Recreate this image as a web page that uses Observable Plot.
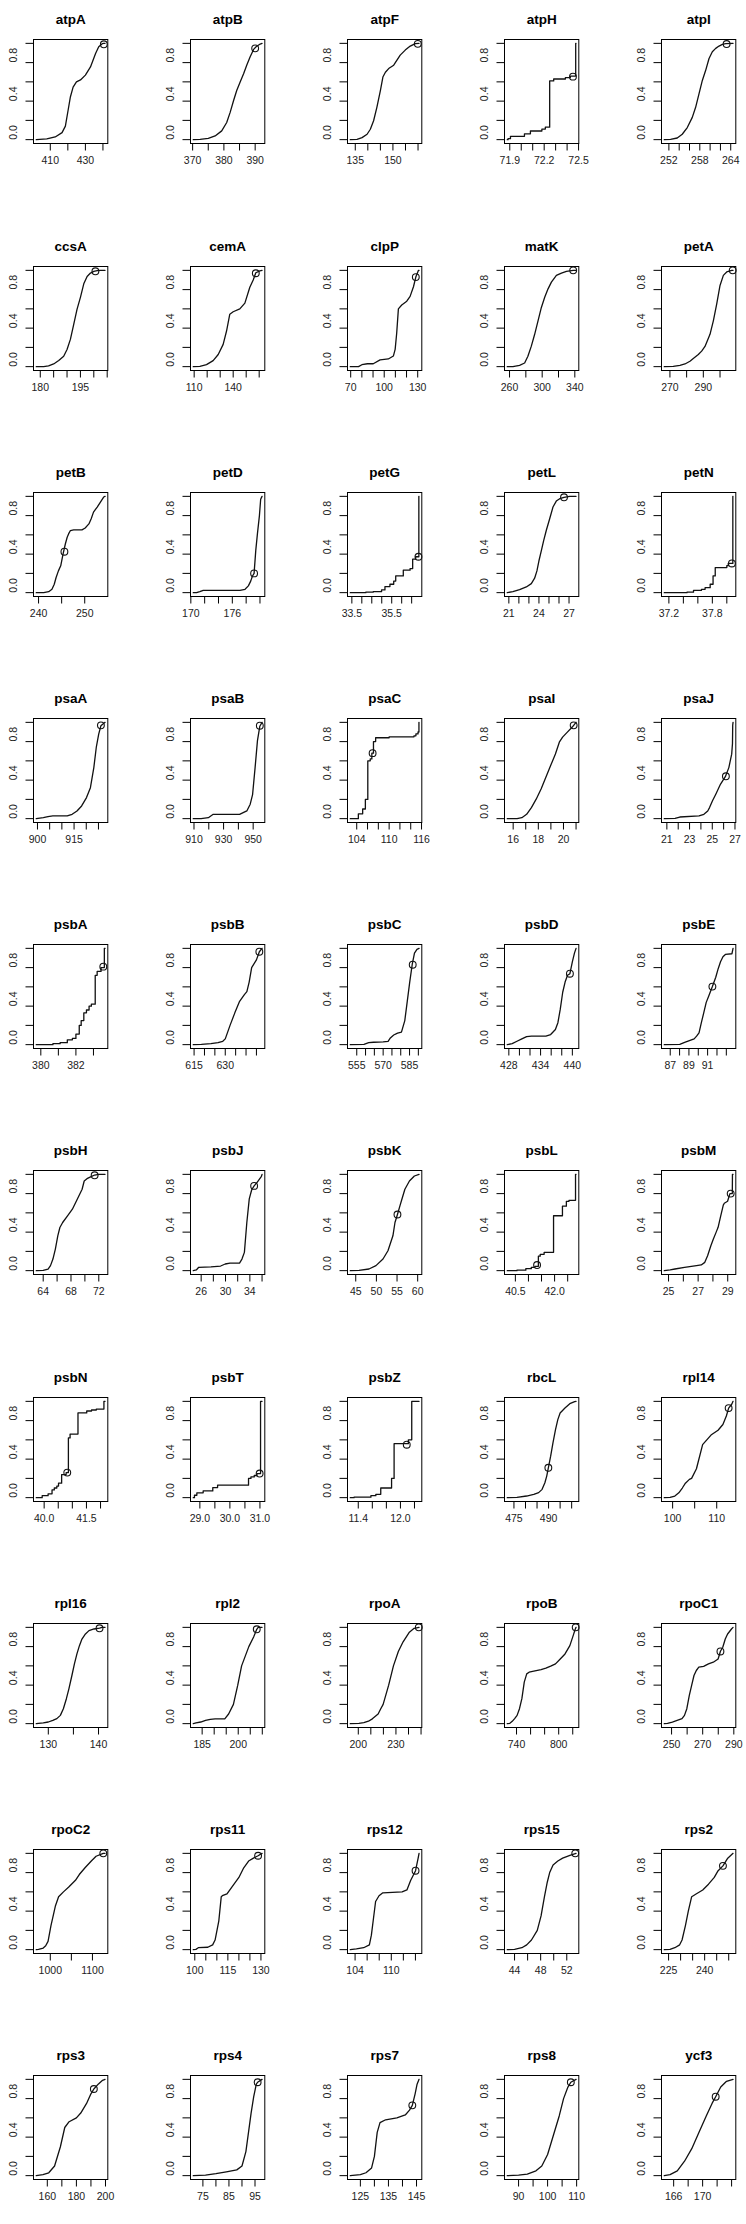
<!DOCTYPE html>
<html><head><meta charset="utf-8">
<script src="https://cdn.jsdelivr.net/npm/d3@7"></script>
<script src="https://cdn.jsdelivr.net/npm/@observablehq/plot@0.6"></script>
<style>
html,body{margin:0;padding:0;background:#fff;overflow:hidden;}
#chart{position:relative;width:746px;height:2224px;overflow:hidden;background:#fff;}
#chart svg{position:absolute;}
</style></head><body><div id="chart"></div>
<script>
const genes = ["atpA","atpB","atpF","atpH","atpI","ccsA","cemA","clpP","matK","petA",
"petB","petD","petG","petL","petN","psaA","psaB","psaC","psaI","psaJ",
"psbA","psbB","psbC","psbD","psbE","psbH","psbJ","psbK","psbL","psbM",
"psbN","psbT","psbZ","rbcL","rpl14","rpl16","rpl2","rpoA","rpoB","rpoC1",
"rpoC2","rps11","rps12","rps15","rps2","rps3","rps4","rps7","rps8","ycf3"];

const stepGenes = ["atpH","petG","petN","psaC","psbA","psbL","psbN","psbT","psbZ"];

const xRanges = [[402,441.2],[370.2,392.2],[133,160.4],[71.878,72.478],[251.1,264.45],
[178.5,204.2],[109.3,162.2],[69.6,131.2],[257.2,341.5],[266.6,307.8],
[239.5,254.4],[170.35,180.3],[33.42,36.87],[20.84,27.7],[37.136,38.086],
[899.5,927.7],[909.5,956],[102.8,115.54],[15.53,21.0],[20.77,26.83],
[379.74,383.66],[614.6,647.7],[551.3,590.4],[427.7,440.7],[86.36,93.72],
[63,72.9],[24.7,36.0],[43.67,60.33],[40.19,42.82],[24.71,29.36],
[39.72,42.16],[28.78,31.07],[11.286,12.265],[472.1,501.9],[98.1,113.7],
[127.6,141.3],[181.3,209.9],[193.6,248.4],[726.8,824.7],[245.3,289.5],
[966.7,1129.9],[99.3,130.5],[103.2,114.6],[42.88,53.42],[223.2,251.8],
[152.4,199.7],[71.3,97.7],[121.4,145.9],[86.1,109.8],[164.7,174.2]];

const xTicks = [[410,420,430,440],[370,375,380,385,390],[135,140,145,150,155,160],[71.9,72.0,72.1,72.2,72.3,72.4,72.5],[252,254,256,258,260,262,264],
[180,185,190,195,200,205],[110,120,130,140,150,160],[70,80,90,100,110,120,130],[260,280,300,320,340],[270,280,290,300],
[240,245,250],[170,172,174,176,178,180],[33.5,34,34.5,35,35.5,36,36.5],[21,22,23,24,25,26,27],[37.2,37.4,37.6,37.8,38.0],
[900,905,910,915,920,925],[910,920,930,940,950],[104,106,108,110,112,114,116],[16,17,18,19,20,21],[21,22,23,24,25,26,27],
[380,381,382,383],[615,620,625,630,635,640,645],[555,560,565,570,575,580,585,590],[428,430,432,434,436,438,440],[87,88,89,90,91,92,93],
[64,66,68,70,72],[26,28,30,32,34,36],[45,50,55,60],[40.5,41,41.5,42,42.5],[25,26,27,28,29],
[40,40.5,41,41.5,42],[29,29.5,30,30.5,31],[11.4,11.6,11.8,12.0,12.2],[475,480,485,490,495,500],[100,105,110],
[130,135,140],[185,190,195,200,205,210],[200,210,220,230,240,250],[740,760,780,800,820],[250,260,270,280,290],
[1000,1050,1100],[100,105,110,115,120,125,130],[104,106,108,110,112,114],[44,46,48,50,52],[225,230,235,240,245,250],
[160,170,180,190,200],[75,80,85,90,95],[125,130,135,140,145],[90,95,100,105,110],[166,168,170,172,174]];

const xLabels = [["410","430"],["370","380","390"],["135","150"],["71.9","72.2","72.5"],["252","258","264"],
["180","195"],["110","140"],["70","100","130"],["260","300","340"],["270","290"],
["240","250"],["170","176"],["33.5","35.5"],["21","24","27"],["37.2","37.8"],
["900","915"],["910","930","950"],["104","110","116"],["16","18","20"],["21","23","25","27"],
["380","382"],["615","630"],["555","570","585"],["428","434","440"],["87","89","91"],
["64","68","72"],["26","30","34"],["45","50","55","60"],["40.5","42.0"],["25","27","29"],
["40.0","41.5"],["29.0","30.0","31.0"],["11.4","12.0"],["475","490"],["100","110"],
["130","140"],["185","200"],["200","230"],["740","800"],["250","270","290"],
["1000","1100"],["100","115","130"],["104","110"],["44","48","52"],["225","240"],
["160","180","200"],["75","85","95"],["125","135","145"],["90","100","110"],["166","170"]];

const curveX = [
[402,408,412.8,416.7,418.6,420.1,421.4,423,424.9,427.2,430,432.9,435.8,437.6,439.6,440.5,441.2],
[370.2,372.4,375.0,377.2,379.3,380.9,382.0,383.1,384.1,385.2,386.3,387.3,388.4,389.5,390.3,391.6,392.2],
[133,135.7,137.7,139.7,141,142.3,143.6,145,146,147,148.3,150.3,151.6,152.9,154.9,156.9,158.9,160.4],
[71.878,71.885,71.906,72.028,72.08,72.18,72.21,72.248,72.283,72.385,72.428,72.475,72.478],
[251.1,252.32,253.62,254.59,255.57,256.54,257.19,257.84,258.49,259.14,259.79,260.43,261.08,261.73,262.38,263.03,264.45],
[178.5,181.25,183.1,185,186.9,188.75,190,191.25,192.5,193.75,195,196.25,197.5,198.75,200,201.25,202.5,204.2],
[109.3,114.4,119.5,124.6,128.5,132.3,134.9,137.4,140,145.1,149,152.8,155.4,157.4,160.5,162.2],
[69.6,77,80,85,90.2,96.3,103.7,108.2,109.8,111.2,112.7,115.7,120.2,123.2,126.2,128.3,130.7,131.2],
[257.2,264.1,272.3,278.5,282.5,286.7,290.8,294.9,299,303.1,307.2,311.3,317.4,323.6,329.7,338,341.5],
[266.6,272,276,279,282,284,287,289,291,294,296,298,300,302,304,307,307.8],
[239.5,241.1,242.2,242.9,243.4,243.8,244.3,244.8,245.3,245.8,246.2,246.5,246.9,247.6,249.4,250.1,250.9,251.4,251.9,252.7,253.4,254.1,254.4],
[170.35,170.82,171.3,171.79,177.11,177.84,178.32,178.66,178.9,179.15,179.39,179.63,179.92,180.1,180.3],
[33.42,34.2,34.57,34.99,35.16,35.41,35.6,35.7,36.08,36.42,36.55,36.7,36.86,36.87],
[20.84,21.4,22.07,22.74,23.24,23.57,23.8,24,24.24,24.47,24.73,25.07,25.4,25.73,26.07,26.5,27.06,27.7],
[37.136,37.45,37.54,37.65,37.7,37.77,37.81,37.84,38.0,38.02,38.083,38.086],
[899.5,902.4,904.3,906.3,912.2,914.2,916.2,918.1,920.1,921.7,923.1,924.1,925.1,926,927.7],
[909.5,914.8,919.7,923,940.8,945.7,948,949.6,951.3,952.9,954.5,956],
[102.8,104.3,105.1,105.6,106.05,106.5,106.8,107.1,107.5,110,114.6,114.96,115.35,115.52,115.54],
[15.53,16.31,16.69,17.07,17.45,17.83,18.22,18.6,18.98,19.36,19.67,19.93,20.31,20.7,20.81,21.0],
[20.77,21.72,22.14,23.83,24.26,24.6,24.76,25.02,25.31,25.73,26.15,26.46,26.71,26.78,26.8,26.83],
[379.74,380.69,381.1,381.51,381.8,382.0,382.19,382.3,382.45,382.6,382.75,382.88,383.1,383.21,383.43,383.62,383.66],
[614.6,618.5,623.1,626.5,628.8,630,632.3,634.6,636.9,639.2,640.4,641.5,642.7,645,646.4,647.7],
[551.3,559.1,561.8,564.6,570,572.8,574.1,576,578.2,580.4,582.3,583.7,585.1,586.5,587.8,589.2,590.4],
[427.7,428.63,429.54,430.45,431.36,432.27,435,435.9,436.8,437.27,437.72,438.18,438.63,439.09,439.54,440,440.4,440.7],
[86.36,88.02,88.54,89.05,89.56,89.82,90.08,90.33,90.59,90.85,91.1,91.51,91.87,92.13,92.38,92.64,92.9,93.6,93.72],
[63,64,64.7,65.05,65.4,65.75,66.1,66.4,66.8,67.5,68.2,68.9,69.6,69.9,70.3,70.9,71.4,72,72.9],
[24.7,25.2,25.6,27.6,29.2,29.95,30.74,32.3,32.7,33.1,33.5,33.9,34.3,34.7,35.1,35.9,36.0],
[43.67,45.8,48.2,49.9,51.6,52.8,54,54.5,55.1,55.7,56.3,56.9,58,59.2,60.33],
[40.19,40.56,40.9,41.11,41.25,41.38,41.45,41.6,41.96,42.3,42.45,42.55,42.8,42.82],
[24.71,25.11,25.43,26.08,26.89,27.21,27.45,27.64,27.86,28.03,28.22,28.35,28.5,28.7,28.77,28.99,29.15,29.31,29.32,29.36],
[39.72,39.93,40.14,40.28,40.36,40.45,40.51,40.62,40.78,40.86,40.92,41.2,41.51,41.68,41.85,42.12,42.16],
[28.78,28.82,28.9,29.11,29.43,29.59,30.62,30.7,30.81,30.9,31.02,31.07],
[11.286,11.34,11.58,11.65,11.72,11.874,11.91,12.113,12.161,12.265],
[472.1,476.3,480.5,483.6,485.7,487.2,488.4,489.2,489.9,490.9,491.9,493,494,495,497.1,499.2,501.3,501.9],
[98.1,99.43,100.5,101.4,102.2,102.9,103.8,104.3,105.4,106.8,108.7,110.3,111.4,112.2,112.7,113.4,113.7],
[127.6,129,130,130.9,131.7,132.4,133,133.6,134.1,134.7,135.2,135.7,136.2,136.7,137.4,138.1,139.1,140.2,140.7,141.3],
[181.3,182.45,184.4,186.4,188.4,190.4,194.4,196,198,199.8,201.4,204.4,206.4,207.7,208.3,209.9],
[193.6,200.5,204.4,208.1,211.2,215.8,217.7,219.8,224.2,228,231.9,235.7,240.7,244.5,248.4],
[726.8,730.5,733.9,737.3,740.8,744.2,747.6,751,754.5,757.9,764.6,774.9,781.8,788.6,795.5,802.2,809,815.9,820.6,823.5,824.7],
[245.3,247.4,250.5,253.6,256.7,258.3,259.8,261.4,262.9,264.4,265.9,267.5,270.6,273.7,276.8,279.9,281.4,282.9,284.5,286,288.5,289.5],
[966.7,972.1,983.3,989.1,994.7,1001.6,1011.9,1019.7,1031.2,1043.8,1059.7,1068.8,1082.4,1097.3,1108.6,1125.7,1129.9],
[99.3,100.5,101.6,105.9,108.1,109.2,110.9,112,112.5,114.6,116.8,120,122.2,124.4,126.6,128.7,130.5],
[103.2,104.22,105.42,106.37,106.7,107,107.4,107.97,108.6,111.79,112.59,113.22,114.02,114.45,114.6],
[42.88,44,45.12,45.86,46.59,47.48,48.06,48.58,49.01,49.38,49.9,50.63,51.37,52.48,53.42],
[223.2,225.6,227.6,229.6,230.6,232,233.2,234.6,236.6,239.2,241.6,244,245.6,247.6,249.6,251.8],
[152.4,157,161,165,169,172,175,180,183,187,190,192,195,198,199.7],
[71.3,76,80,84,88,90,91.5,92.5,93.5,94.5,95.5,96,97.7],
[121.4,125,127,129,130,131,132,134,138,141,142.5,143.5,144.5,145.2,145.9],
[86.1,90,93,96,98,100,102,104,105.5,107,108,109.8],
[164.7,165.5,166.5,167.5,168.5,169.5,170.5,171.3,171.8,172.5,173.3,174.2]];

const curveY = [
[0,0.007,0.028,0.073,0.14,0.30,0.44,0.545,0.60,0.62,0.67,0.755,0.895,0.965,0.997,1,1],
[0,0.003,0.014,0.038,0.091,0.178,0.283,0.406,0.51,0.598,0.685,0.773,0.86,0.937,0.965,0.993,1],
[0,0.003,0.021,0.056,0.108,0.196,0.336,0.51,0.65,0.70,0.738,0.773,0.825,0.878,0.93,0.972,0.997,1],
[0,0.01,0.035,0.06,0.09,0.11,0.13,0.61,0.63,0.645,0.66,1,1],
[0,0.003,0.017,0.056,0.126,0.231,0.336,0.476,0.615,0.72,0.843,0.913,0.948,0.972,0.99,0.997,1],
[0,0,0.007,0.028,0.063,0.108,0.178,0.283,0.44,0.598,0.72,0.86,0.937,0.972,0.99,0.997,1,1],
[0,0.003,0.021,0.063,0.126,0.231,0.37,0.545,0.57,0.60,0.66,0.825,0.90,0.975,0.995,1],
[0,0,0.02,0.03,0.03,0.07,0.08,0.11,0.18,0.35,0.6,0.64,0.68,0.73,0.83,0.93,1,1],
[0,0,0.014,0.038,0.108,0.213,0.336,0.476,0.615,0.72,0.808,0.878,0.948,0.972,0.99,1,1],
[0,0.003,0.014,0.028,0.056,0.084,0.126,0.161,0.21,0.336,0.476,0.65,0.843,0.948,0.983,1,1],
[0,0,0.01,0.035,0.087,0.157,0.226,0.279,0.401,0.505,0.575,0.61,0.645,0.652,0.652,0.672,0.714,0.767,0.836,0.889,0.941,0.993,1],
[0,0,0.01,0.024,0.024,0.035,0.07,0.12,0.17,0.2,0.436,0.61,0.8,0.97,1],
[0,0.005,0.01,0.028,0.063,0.087,0.12,0.174,0.233,0.25,0.348,0.373,1,1],
[0,0.01,0.031,0.059,0.094,0.15,0.226,0.331,0.436,0.54,0.645,0.767,0.889,0.951,0.976,0.99,1,1],
[0,0.005,0.024,0.035,0.052,0.087,0.174,0.26,0.28,0.303,1,1],
[0,0.01,0.021,0.028,0.028,0.045,0.08,0.132,0.219,0.322,0.53,0.739,0.878,0.965,1],
[0,0,0.01,0.045,0.045,0.08,0.15,0.25,0.53,0.81,0.96,1],
[0,0.05,0.1,0.2,0.6,0.62,0.68,0.8,0.84,0.85,0.86,0.88,0.9,1,1],
[0,0,0.01,0.045,0.115,0.202,0.307,0.429,0.551,0.672,0.794,0.847,0.899,0.951,0.969,1],
[0,0.003,0.017,0.028,0.045,0.08,0.115,0.185,0.254,0.359,0.436,0.53,0.67,0.78,0.97,1],
[0,0.01,0.02,0.05,0.065,0.11,0.2,0.25,0.33,0.36,0.4,0.42,0.72,0.76,0.8,1,1],
[0,0.0035,0.01,0.021,0.035,0.06,0.2,0.33,0.45,0.52,0.55,0.65,0.8,0.88,0.965,1],
[0,0.003,0.02,0.025,0.028,0.035,0.07,0.1,0.12,0.13,0.25,0.45,0.65,0.83,0.95,0.99,1],
[0,0.01,0.035,0.06,0.084,0.088,0.088,0.105,0.158,0.228,0.368,0.544,0.65,0.72,0.737,0.86,0.95,1],
[0,0.0035,0.024,0.042,0.06,0.088,0.123,0.228,0.333,0.439,0.5,0.603,0.70,0.789,0.86,0.912,0.937,0.944,1],
[0,0.003,0.017,0.052,0.12,0.224,0.362,0.448,0.5,0.569,0.638,0.741,0.845,0.931,0.955,0.976,0.993,1,1],
[0,0.007,0.035,0.04,0.048,0.069,0.079,0.079,0.12,0.19,0.5,0.745,0.84,0.88,0.91,0.98,1],
[0,0.003,0.017,0.052,0.121,0.207,0.362,0.5,0.583,0.672,0.759,0.845,0.931,0.983,1],
[0,0.005,0.02,0.035,0.045,0.15,0.17,0.19,0.57,0.67,0.72,0.73,1,1],
[0,0.007,0.017,0.034,0.052,0.059,0.086,0.155,0.259,0.328,0.4,0.45,0.55,0.68,0.7,0.72,0.8,0.8,1,1],
[0,0.02,0.04,0.08,0.1,0.12,0.15,0.24,0.26,0.62,0.66,0.88,0.9,0.91,0.92,1,1],
[0,0.025,0.05,0.07,0.105,0.13,0.2,0.215,0.23,0.25,1,1],
[0,0.005,0.02,0.035,0.1,0.2,0.56,0.6,1,1],
[0,0.003,0.017,0.034,0.052,0.086,0.155,0.224,0.31,0.431,0.569,0.707,0.81,0.879,0.931,0.976,0.997,1],
[0,0.003,0.017,0.05,0.1,0.15,0.19,0.2,0.3,0.55,0.65,0.7,0.76,0.85,0.93,0.97,1],
[0,0.007,0.017,0.034,0.052,0.086,0.155,0.259,0.362,0.5,0.621,0.724,0.81,0.879,0.931,0.966,0.983,0.993,1,1],
[0,0.007,0.017,0.034,0.045,0.05,0.05,0.1,0.2,0.4,0.6,0.8,0.9,0.98,1,1],
[0,0.003,0.01,0.025,0.05,0.1,0.15,0.2,0.4,0.6,0.75,0.85,0.95,0.99,1],
[0,0.003,0.024,0.052,0.086,0.155,0.259,0.431,0.517,0.534,0.545,0.562,0.576,0.597,0.621,0.672,0.724,0.81,0.914,0.98,1],
[0,0.003,0.017,0.034,0.052,0.086,0.155,0.293,0.397,0.5,0.552,0.586,0.595,0.621,0.638,0.672,0.752,0.793,0.879,0.931,0.983,1],
[0,0.003,0.017,0.04,0.086,0.25,0.45,0.55,0.6,0.65,0.72,0.78,0.85,0.92,0.97,1,1],
[0,0.003,0.02,0.025,0.05,0.1,0.3,0.55,0.56,0.58,0.65,0.75,0.85,0.92,0.95,0.975,1],
[0,0.007,0.02,0.05,0.15,0.3,0.5,0.56,0.59,0.6,0.62,0.72,0.82,0.95,1],
[0,0.003,0.02,0.05,0.1,0.2,0.35,0.55,0.7,0.8,0.88,0.92,0.95,0.98,1],
[0,0.003,0.02,0.05,0.1,0.25,0.4,0.55,0.58,0.62,0.68,0.75,0.82,0.87,0.95,1],
[0,0.01,0.03,0.1,0.3,0.5,0.56,0.6,0.65,0.75,0.85,0.9,0.95,0.99,1],
[0,0.005,0.02,0.04,0.06,0.1,0.25,0.45,0.65,0.82,0.95,0.97,1],
[0,0.01,0.03,0.08,0.2,0.45,0.55,0.58,0.6,0.63,0.68,0.73,0.85,0.95,1],
[0,0.005,0.015,0.05,0.1,0.22,0.42,0.62,0.8,0.92,0.97,1],
[0,0.01,0.05,0.15,0.28,0.45,0.62,0.75,0.82,0.92,0.98,1]];

const markers = [[440.5,0.99],[390.0,0.948],[159.9,0.995],[72.451,0.654],[263.2,0.993],
[200.6,0.99],[157.4,0.97],[128.3,0.93],[338,1.0],[307.6,1.0],
[245.6,0.425],[179.15,0.2],[36.84,0.373],[26.5,0.99],[38.07,0.303],
[926,0.969],[954.5,0.965],[106.94,0.68],[20.81,0.969],[26.2,0.44],
[383.56,0.81],[646.4,0.965],[586.8,0.83],[439.54,0.737],[91.51,0.603],
[71.4,0.99],[34.7,0.88],[55.1,0.583],[41.33,0.058],[29.2,0.8],
[40.82,0.26],[30.99,0.25],[12.09,0.55],[489.9,0.31],[112.7,0.93],
[140.2,0.99],[207.7,0.98],[248.2,1.0],[824.2,1.0],[281.4,0.75],
[1125.7,1.0],[128.7,0.975],[114.02,0.82],[53.3,1.0],[247.6,0.87],
[192,0.9],[96,0.97],[143.5,0.73],[108,0.97],[171.8,0.82]];

const yTicks = [0, 0.2, 0.4, 0.6, 0.8, 1.0];
const yLabels = ["0.0", "0.4", "0.8"];

// layout (pixels)
const BOX_W = 74.3, BOX_H = 104;
const ML = 40, MT = 39, W = 125, H = 185;
const colLeft = c => 33.3 + 156.9 * c;
const rowTop = r => 39.3 + 226.2 * r;
const FONT = "'Liberation Sans', Arial, Helvetica, sans-serif";

const chart = document.getElementById("chart");
genes.forEach((g, i) => {
  const c = i % 5, r = Math.floor(i / 5);
  const [lo, hi] = xRanges[i];
  const pad = 0.04 * (hi - lo);
  const domain = [lo - pad, hi + pad];
  const pts = curveX[i].map((x, k) => ({x, y: curveY[i][k]}));
  const ticks = xTicks[i].filter(t => t >= domain[0] - 1e-9 && t <= domain[1] + 1e-9);
  const svg = Plot.plot({
    width: W, height: H,
    marginLeft: ML, marginTop: MT,
    marginRight: W - ML - BOX_W, marginBottom: H - MT - BOX_H,
    style: {fontFamily: FONT, fontSize: "10.5px", background: "transparent", overflow: "visible", color: "#000"},
    x: {domain, ticks, tickSize: 7.5, tickFormat: () => "", label: null},
    y: {domain: [-0.04, 1.04], ticks: yTicks, tickSize: 7.5, tickFormat: () => "", label: null},
    marks: [
      Plot.frame({stroke: "#000", strokeWidth: 1}),
      Plot.line(pts, {x: "x", y: "y", curve: stepGenes.includes(g) ? "step-after" : "linear",
        stroke: "#111", strokeWidth: 1.3}),
      Plot.dot([markers[i]], {x: d => d[0], y: d => d[1], r: 3.4, fill: "none", stroke: "#111", strokeWidth: 1.1}),
      Plot.text([g], {text: d => d, frameAnchor: "top", dy: -25, fontWeight: "bold", fontSize: 13.5}),
      Plot.text(yLabels, {y: d => +d, text: d => d, frameAnchor: "left", dx: -20, rotate: -90, fontSize: 10.5, fill: "#222"}),
      Plot.text(xLabels[i], {x: d => +d, text: d => d, frameAnchor: "bottom", dy: 20, fontSize: 10.5, fill: "#222"})
    ]
  });
  svg.style.left = (colLeft(c) - ML) + "px";
  svg.style.top = (rowTop(r) - MT) + "px";
  chart.appendChild(svg);
});
</script>
</body></html>
